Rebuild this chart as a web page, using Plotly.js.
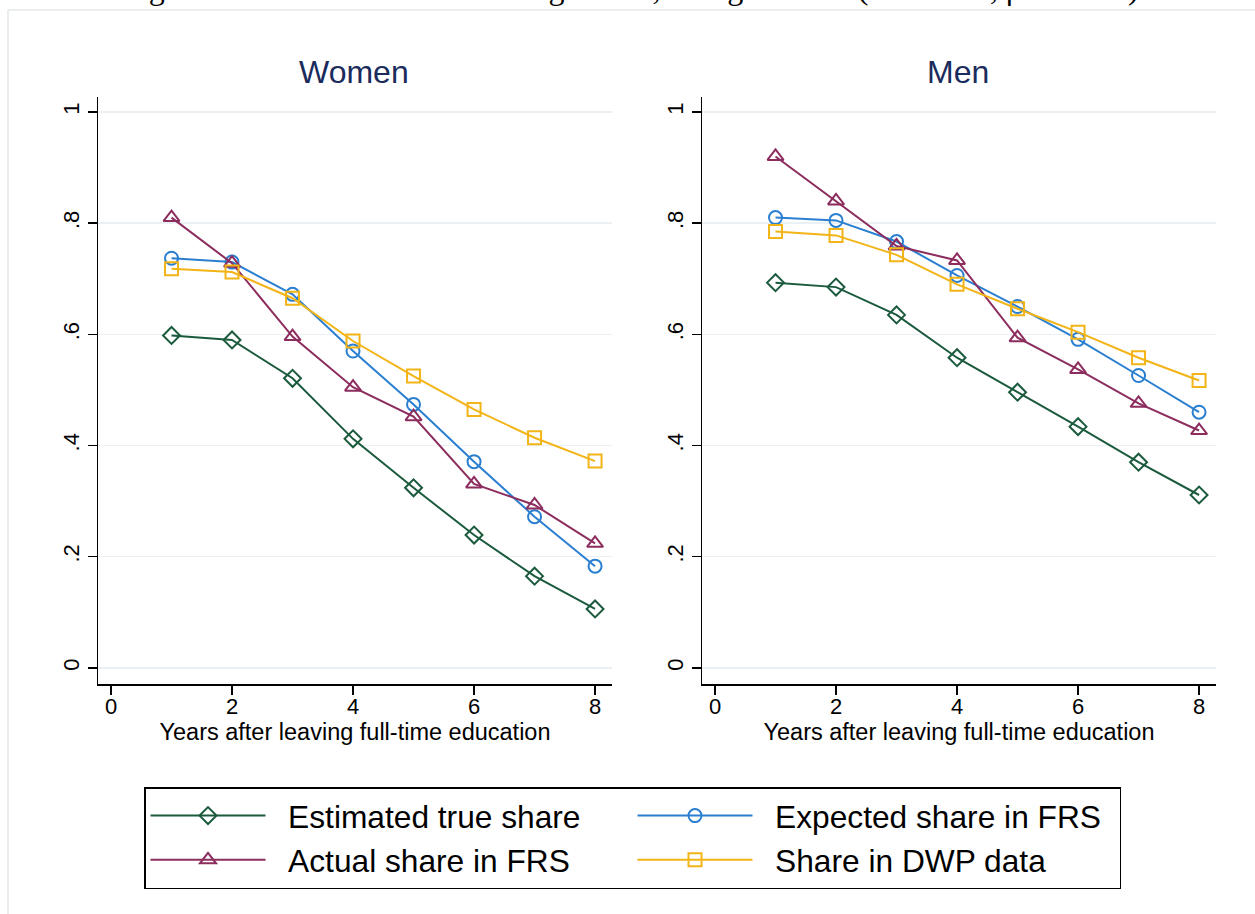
<!DOCTYPE html>
<html>
<head>
<meta charset="utf-8">
<script src="https://cdn.plot.ly/plotly-3.0.1.min.js"></script>
<style>html,body{margin:0;padding:0;background:#fff;}#chart{width:1255px;height:914px;}</style>
</head>
<body>
<div id="chart"></div>
<script>
// Data
const years = [1, 2, 3, 4, 5, 6, 7, 8];
const seriesNames = ["Estimated true share", "Expected share in FRS", "Actual share in FRS", "Share in DWP data"];
const panelTitles = ["Women", "Men"];
const womenEstimatedTrue = [0.598, 0.590, 0.521, 0.412, 0.324, 0.239, 0.165, 0.106];
const womenExpectedFRS   = [0.737, 0.730, 0.672, 0.570, 0.474, 0.371, 0.272, 0.183];
const womenActualFRS     = [0.810, 0.728, 0.596, 0.505, 0.452, 0.331, 0.293, 0.224];
const womenDWP           = [0.718, 0.712, 0.665, 0.588, 0.525, 0.465, 0.414, 0.372];
const menEstimatedTrue   = [0.693, 0.685, 0.635, 0.558, 0.496, 0.434, 0.370, 0.311];
const menExpectedFRS     = [0.810, 0.805, 0.767, 0.706, 0.650, 0.591, 0.526, 0.460];
const menActualFRS       = [0.920, 0.840, 0.759, 0.733, 0.594, 0.537, 0.476, 0.427];
const menDWP             = [0.785, 0.778, 0.743, 0.690, 0.646, 0.604, 0.558, 0.517];
const yTickVals = [0, 0.2, 0.4, 0.6, 0.8, 1];
const yTickText = ["0", ".2", ".4", ".6", ".8", "1"];
const xTickVals = [0, 2, 4, 6, 8];
const xTitle = "Years after leaving full-time education";
const figTitle = "Figure A.1: Matched misrecording model, non-graduates (\u03bb = 0.705, \u03c1 = 0.531)";

const styles = [
  {color: "#1b5a3d", symbol: "diamond-open", size: 13},
  {color: "#2a7fd0", symbol: "circle-open", size: 13},
  {color: "#8c2d5e", symbol: "triangle-up-open", size: 14},
  {color: "#f2b416", symbol: "square-open", size: 13}
];
const women = [womenEstimatedTrue, womenExpectedFRS, womenActualFRS, womenDWP];
const men = [menEstimatedTrue, menExpectedFRS, menActualFRS, menDWP];
const pad = "\u00a0\u00a0";
const traces = [];
[[women, "x", "y"], [men, "x2", "y2"]].forEach(([data, xa, ya], p) => {
  data.forEach((vals, i) => {
    traces.push({
      x: years, y: vals, xaxis: xa, yaxis: ya, type: "scatter", mode: "lines+markers",
      name: pad + seriesNames[i], showlegend: p === 0,
      line: {color: styles[i].color, width: 2},
      marker: {symbol: styles[i].symbol, size: styles[i].size, color: styles[i].color, line: {width: 2, color: styles[i].color}}
    });
  });
});

const W = 1255, H = 914;
const px = v => v / W, py = v => 1 - v / H;
const font = "Liberation Sans, Arial, sans-serif";
function xax(d0, d1, anchor) {
  return {domain: [px(d0), px(d1)], range: [-0.215, 8.28], tickvals: xTickVals, showgrid: false, zeroline: false,
    anchor: anchor, automargin: false, ticklabelstandoff: -7,
    showline: true, linecolor: "#000", linewidth: 1.5, ticks: "outside", ticklen: 9, tickwidth: 1.5, tickcolor: "#000",
    tickfont: {family: font, size: 22, color: "#000"}, fixedrange: true,
    title: {text: xTitle, font: {family: font, size: 23.5, color: "#000"}, standoff: 0}};
}
function yax(anchor) {
  return {domain: [py(684), py(97)], range: [-0.029, 1.027], tickvals: yTickVals, ticktext: yTickText, tickangle: -90,
    showgrid: true, gridcolor: "#eaf0f4", gridwidth: 1.5, zeroline: false, anchor: anchor, automargin: false,
    showline: true, linecolor: "#000", linewidth: 1.5, ticks: "outside", ticklen: 9, tickwidth: 1.5, tickcolor: "#000",
    tickfont: {family: font, size: 22, color: "#000"}, fixedrange: true};
}
const layout = {
  width: W, height: H, margin: {l: 0, r: 0, t: 0, b: 0, autoexpand: false},
  paper_bgcolor: "#fff", plot_bgcolor: "#fff",
  font: {family: font},
  xaxis: xax(98, 612, "y"),
  yaxis: yax("x"),
  xaxis2: xax(702, 1216, "y2"),
  yaxis2: yax("x2"),
  showlegend: true,
  legend: {orientation: "h", x: px(144), y: py(787), xanchor: "left", yanchor: "top",
    bgcolor: "#fff", bordercolor: "#000", borderwidth: 1.5, entrywidth: 357, entrywidthmode: "pixels",
    itemwidth: 115, font: {family: font, size: 31.7, color: "#000"}, traceorder: "normal"},
  annotations: [
    {text: panelTitles[0], xref: "paper", yref: "paper", x: px(354), y: py(72), xanchor: "center", yanchor: "middle",
      showarrow: false, font: {family: font, size: 32, color: "#1a2b5c"}},
    {text: panelTitles[1], xref: "paper", yref: "paper", x: px(958), y: py(72), xanchor: "center", yanchor: "middle",
      showarrow: false, font: {family: font, size: 32, color: "#1a2b5c"}},
    {text: figTitle, xref: "paper", yref: "paper", x: px(630), y: py(8), xanchor: "center", yanchor: "bottom",
      showarrow: false, font: {family: "Liberation Serif, DejaVu Serif, serif", size: 32, color: "#000"}}
  ],
  shapes: [
    {type: "line", xref: "paper", yref: "paper", x0: px(8), x1: px(8), y0: py(10), y1: py(914),
      line: {color: "#e4e8ea", width: 1.5}, layer: "below"},
    {type: "line", xref: "paper", yref: "paper", x0: px(8), x1: px(1255), y0: py(10), y1: py(10),
      line: {color: "#e4e8ea", width: 1.5}, layer: "below"}
  ]
};
Plotly.newPlot("chart", traces, layout, {displayModeBar: false, staticPlot: true});
</script>
</body>
</html>
